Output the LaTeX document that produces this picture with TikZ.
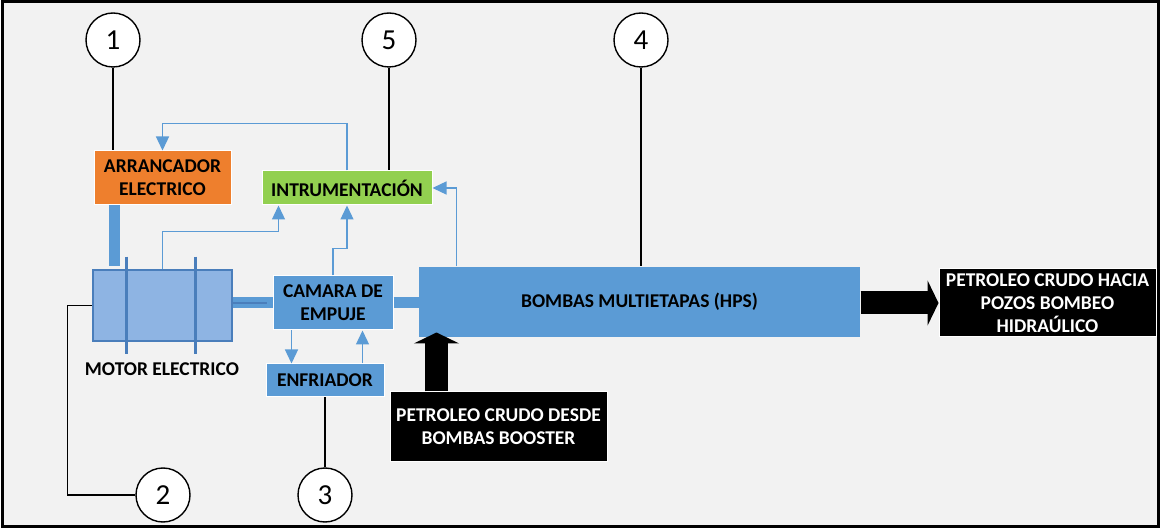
\documentclass[tikz,border=0pt]{standalone}
\usepackage{fontspec}
\setmainfont{Carlito}
\usetikzlibrary{arrows.meta,positioning,calc}

\definecolor{bluebox}{HTML}{5B9BD5}
\definecolor{bluedark}{HTML}{4A7EBB}
\definecolor{motorfill}{HTML}{8EB4E3}
\definecolor{orangebox}{HTML}{EE7F2D}
\definecolor{greenbox}{HTML}{92D050}
\definecolor{backgr}{HTML}{F2F2F2}

\begin{document}
\begin{tikzpicture}[x=1pt, y=-1pt, >={Triangle[width=13pt,length=14pt]}]
\tikzstyle{box}=[inner sep=0pt, align=center, draw=white, line width=1pt,
  font=\fontsize{19.5}{23}\selectfont\bfseries]
\tikzstyle{blackbox}=[box, fill=black, text=white, draw=white]
\tikzstyle{num}=[circle, draw=black, fill=white, line width=1.4pt, minimum size=54pt,
  inner sep=0pt, font=\fontsize{29}{31}\selectfont]
\tikzstyle{flow}=[->, draw=bluebox, line width=1.3pt]
\tikzstyle{lead}=[draw=black, line width=1.4pt]
\tikzstyle{shaft}=[draw=bluebox, line width=11pt]
\tikzstyle{bigarrow}=[-{Triangle[width=45pt,length=11pt]}, draw=black, line width=23pt]

\useasboundingbox (0,0) rectangle (1160,529);
\draw[fill=backgr, line width=3pt] (2,2) rectangle (1158,526);

% equipment
\node[box, fill=orangebox, minimum width=137pt, minimum height=54pt] (arr) at (162.5,178) {ARRANCADOR\\ELECTRICO};
\node[box, fill=greenbox, minimum width=170pt, minimum height=34pt] (instr) at (347,188) {INTRUMENTACIÓN};
\node[draw=bluedark, fill=motorfill, line width=2.5pt, minimum width=139pt, minimum height=71pt, inner sep=0pt] (motor) at (162.5,305.5) {};
\node[font=\fontsize{19.5}{23}\selectfont\bfseries] (motorlbl) at (162,369) {MOTOR ELECTRICO};
\node[box, fill=bluebox, minimum width=120pt, minimum height=54pt] (camara) at (333,303) {CAMARA DE\\EMPUJE};
\node[box, fill=bluebox, minimum width=118pt, minimum height=33pt] (enf) at (325,380.5) {ENFRIADOR};
\node[box, fill=bluebox, draw=none, minimum width=441pt, minimum height=70pt] (bombas) at (639.5,302) {BOMBAS MULTIETAPAS (HPS)};
\node[blackbox, minimum width=217pt, minimum height=69pt] (desde) at (498.5,426.5) {PETROLEO CRUDO DESDE\\BOMBAS BOOSTER};
\node[blackbox, minimum width=217pt, minimum height=68pt] (hacia) at (1047.5,303) {PETROLEO CRUDO HACIA\\POZOS BOMBEO\\HIDRAÚLICO};

% motor cross lines
\draw[draw=bluedark, line width=3pt] ([shift={(35,-12)}]motor.north west) -- ([shift={(35,12)}]motor.south west);
\draw[draw=bluedark, line width=3pt] ([shift={(104,-12)}]motor.north west) -- ([shift={(104,12)}]motor.south west);

% mechanical links
\draw[shaft] ([xshift=-48.5pt]arr.south) -- ([xshift=-48.5pt,yshift=3pt]arr.south |- motor.north);
\draw[shaft] (motor.east |- camara.west) -- (camara.west);
\draw[draw=bluedark, line width=2pt] ([yshift=2pt]motor.east) -- ++(34,0);
\draw[shaft] (camara.east) -- (bombas.west |- camara.east);

% signals
\draw[flow] (instr.north) -- ++(0,-47) -| (arr.north);
\draw[flow] (motor.north) -- ++(0,-37) -| ([xshift=17pt]instr.south west);
\draw[flow] (camara.north) -- ++(0,-27) -| (instr.south);
\draw[flow] ([xshift=38pt]bombas.north west) |- (instr.east);
\draw[flow] ([xshift=19pt]camara.south west) -- ([xshift=19pt]camara.south west |- enf.north);
\draw[flow] ([xshift=-22pt]enf.north east) -- ([xshift=-22pt]enf.north east |- camara.south);

% crude oil
\draw[bigarrow] ([xshift=-62pt]desde.north) -- ([xshift=-62pt,yshift=5pt]desde.north |- bombas.south);
\draw[bigarrow] (bombas.east |- hacia.west) -- (hacia.west);

% callouts
\node[num] (c1) at (113,40) {1};
\node[num] (c5) at (389,40) {5};
\node[num] (c4) at (641,40) {4};
\node[num] (c2) at (163,495) {2};
\node[num] (c3) at (325,495) {3};
\draw[lead] (c1.south) -- (c1.south |- arr.north);
\draw[lead] (c5.south) -- (c5.south |- instr.north);
\draw[lead] (c4.south) -- (c4.south |- bombas.north);
\draw[lead] (c3.north) -- (c3.north |- enf.south);
\draw[lead] (c2.west) -- ++(-68,0) |- (motor.west);
\end{tikzpicture}
\end{document}
